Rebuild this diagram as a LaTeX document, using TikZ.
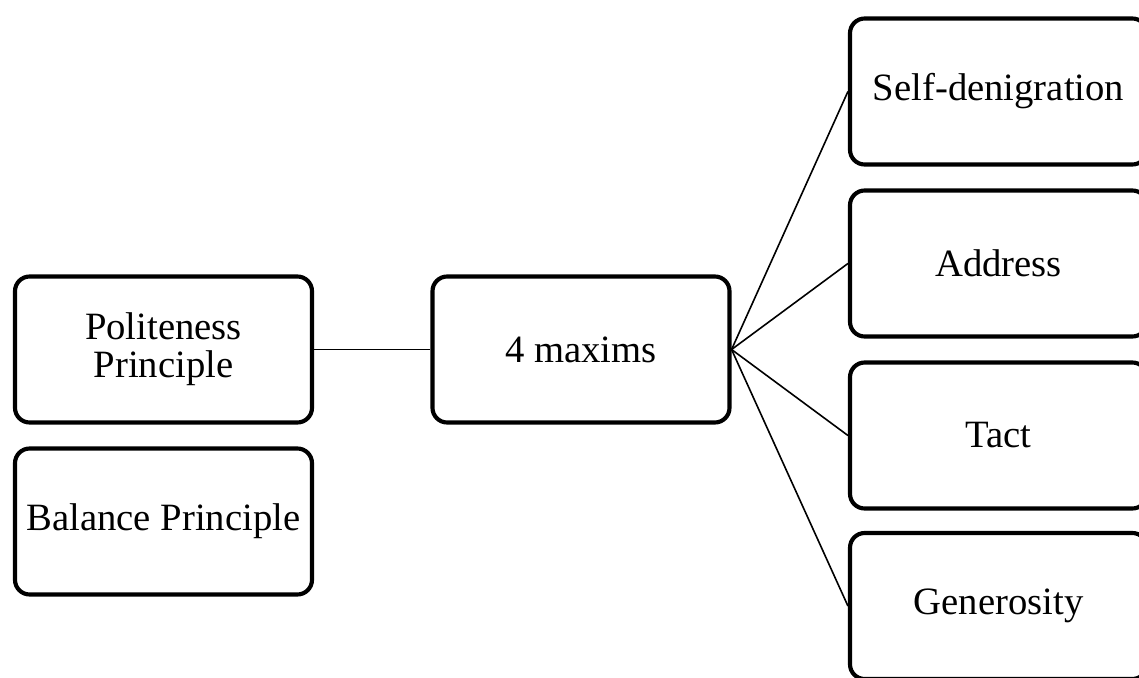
\documentclass[tikz,border=0pt]{standalone}
\usepackage{fontspec}
\setmainfont{Liberation Serif}
\begin{document}
\begin{tikzpicture}[x=0.75pt,y=-0.75pt,
  box/.style={draw=black, line width=3.1pt, rounded corners=11pt, fill=white,
    minimum width=222.75pt, minimum height=109.5pt, inner sep=2pt,
    align=center, font=\fontsize{29}{28.5}\selectfont},
  link/.style={draw=black, line width=1.2pt}]
\useasboundingbox (0,0) rectangle (1139,678);
\clip (0,0) rectangle (1139,678);
\fill[white] (0,0) rectangle (1139,678);
\node[box] (pol) at (163.5,349.5) {Politeness\\Principle};
\node[box] (bal) at (163.5,521.5) {Balance Principle};
\node[box] (max) at (581,349.5) {4 maxims};
\node[box] (sd) at (998.5,91.5) {Self-denigration};
\node[box] (ad) at (998.5,263.5) {Address};
\node[box] (ta) at (998.5,435.5) {Tact};
\node[box] (ge) at (998.5,606) {Generosity};
\draw[link] (pol.east) -- (max.west);
\draw[link] (max.east) -- (sd.west);
\draw[link] (max.east) -- (ad.west);
\draw[link] (max.east) -- (ta.west);
\draw[link] (max.east) -- (ge.west);
\end{tikzpicture}
\end{document}
